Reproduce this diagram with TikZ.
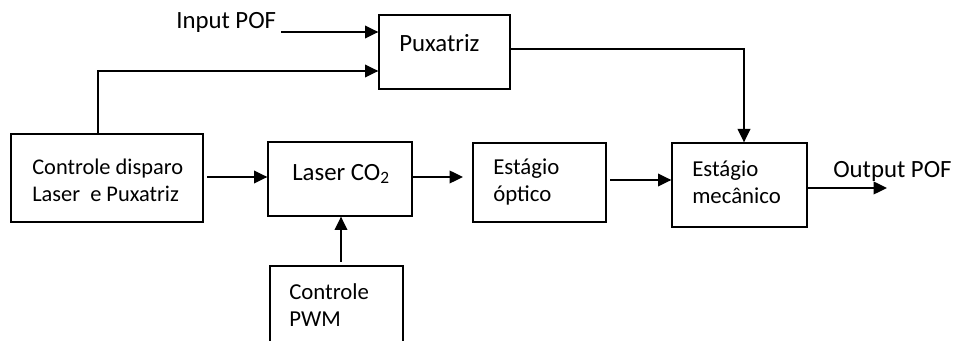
\documentclass[tikz,border=0pt]{standalone}
\usepackage{fontspec}
\setmainfont{Carlito}
\usetikzlibrary{arrows.meta,fit}
\begin{document}
\begin{tikzpicture}[x=0.75pt,y=-0.75pt,
  box/.style={draw, line width=1pt, inner sep=0pt},
  lbl/.style={inner sep=0pt, anchor=west, align=left, font=\fontsize{17.1}{20.3}\selectfont},
  big/.style={font=\fontsize{18.6}{21}\selectfont},
  sml/.style={font=\fontsize{16.8}{20.3}\selectfont},
  arr/.style={line width=1pt, -{Triangle[length=10pt,width=9.5pt]}}]
\useasboundingbox (0,0) rectangle (953,341);
\clip (0,0) rectangle (953,341);
% boxes
\node[box, fit={(379,15) (510,89)}] (pux) {};
\node[box, fit={(11,134) (203,222)}] (ctl) {};
\node[box, fit={(268,142) (412,216)}] (las) {};
\node[box, fit={(473,143) (606,222)}] (opt) {};
\node[box, fit={(672,143) (807,227)}] (mec) {};
\node[box, fit={(270,266) (403,352)}] (pwm) {};
% labels
\node[lbl, big] (inpt) at (176,22) {Input POF};
\node[lbl, big] (puxt) at (399,43) {Puxatriz};
\node[lbl, sml] (ctlt) at (32,180.5) {Controle disparo\\Laser~ e Puxatriz};
\node[lbl, big] (last) at (292,174) {Laser CO\textsubscript{2}};
\node[lbl] (optt) at (493,182) {Estágio\\óptico};
\node[lbl] (mect) at (692,182) {Estágio\\mecânico};
\node[lbl] (pwmt) at (289,305.5) {Controle\\PWM};
\node[lbl, big] (outt) at (833,171) {Output POF};
% connector points
\coordinate (a1) at (281,32);
\coordinate (c2) at (98,71);
\coordinate (a3) at (207,177);
\coordinate (a4) at (463,177);
\coordinate (a5) at (610,180);
\coordinate (c1) at (744,49);
\coordinate (a6) at (341,262);
\coordinate (a7) at (887,188);
% connectors
\draw[arr] (a1) -- (pux.west |- a1);
\draw[arr] (ctl.north -| c2) -- (c2) -- (pux.west |- c2);
\draw[arr] (a3) -- (las.west |- a3);
\draw[arr] (las.east |- a4) -- (a4);
\draw[arr] (a5) -- (mec.west |- a5);
\draw[arr] (pux.east |- c1) -- (c1) -- (mec.north -| c1);
\draw[arr] (a6) -- (las.south -| a6);
\draw[arr] (mec.east |- a7) -- (a7);
\end{tikzpicture}
\end{document}
